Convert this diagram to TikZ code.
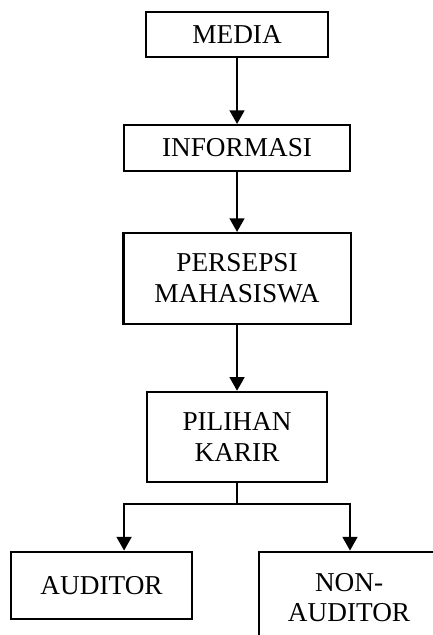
\documentclass[tikz,border=0pt]{standalone}
\usepackage{fontspec}
\setmainfont{Liberation Serif}
\usetikzlibrary{positioning}
\usetikzlibrary{arrows.meta}

\begin{document}
\begin{tikzpicture}[
    node distance=29pt and 0.5cm,
    box/.style={draw,line width=0.9pt,align=center,inner sep=0pt,font=\fontsize{12}{13.5}\selectfont},
    arr/.style={line width=0.9pt,-{Triangle[length=6pt,width=6.5pt]}}
    ]

    \path[use as bounding box] (-104.3pt,15.2pt) rectangle (86.2pt,-264.2pt);
    \clip (-104.3pt,15.2pt) rectangle (86.2pt,-264.2pt);

    \node[box, minimum width=80pt, minimum height=19.8pt] (media) {MEDIA};
    \node[box, minimum width=99.4pt, minimum height=20.2pt, below=of media] (informasi) {INFORMASI};
    \node[box, minimum width=99.9pt, minimum height=40pt, below=26.4pt of informasi] (persepsi) {PERSEPSI\\MAHASISWA};
    \node[box, minimum width=79.2pt, minimum height=39.6pt, below=of persepsi] (karir) {PILIHAN\\KARIR};
    \coordinate[below=9.2pt of karir] (split);
    \node[box, minimum width=79.6pt, minimum height=29.5pt, below=29.8pt of karir, xshift=-59.6pt] (auditor) {AUDITOR};
    \node[box, minimum width=79.2pt, minimum height=40.5pt, below=29.8pt of karir, xshift=49.3pt] (nonauditor) {NON-\\AUDITOR};

    \path (media) edge[arr] (informasi)
    (informasi) edge[arr] (persepsi)
    (persepsi) edge[arr] (karir)
    ;
    \draw[line width=0.9pt] (karir) -- (split);
    \draw[arr] (split) -| ([xshift=9.9pt]auditor.north);
    \draw[arr] (split) -| ([xshift=0.4pt]nonauditor.north);

  \end{tikzpicture}
\end{document}
